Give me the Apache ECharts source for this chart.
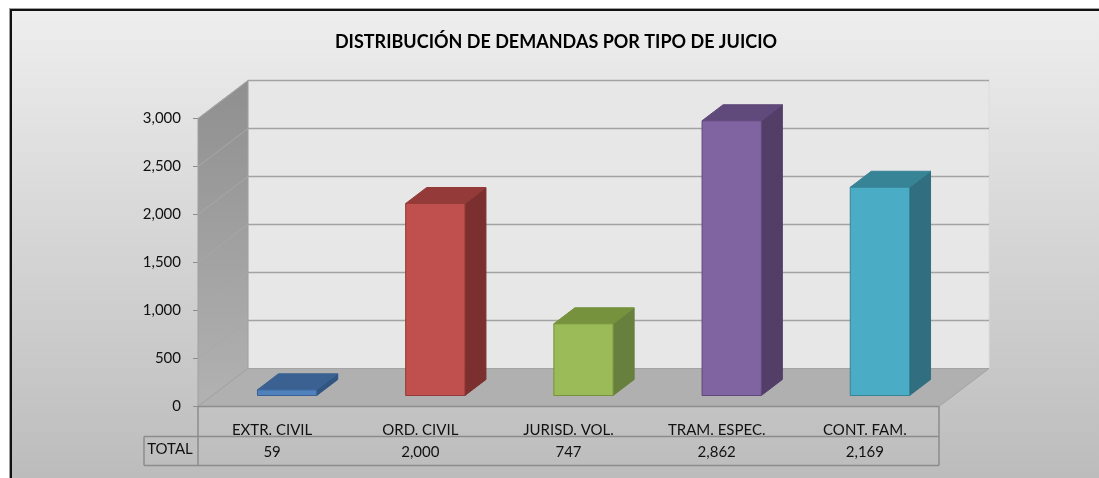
<!DOCTYPE html>
<html>
<head>
<meta charset="utf-8">
<style>
	html, body { margin: 0; padding: 0; background: #fff; }
	#chart { width: 1099px; height: 478px; }
</style>
<script src="https://cdn.jsdelivr.net/npm/echarts@6/dist/echarts.min.js"></script>
</head>
<body>
<div id="chart"></div>
<script>
var categories = ['EXTR. CIVIL', 'ORD. CIVIL', 'JURISD. VOL.', 'TRAM. ESPEC.', 'CONT. FAM.'];
var totals = [59, 2000, 747, 2862, 2169];
var yTicks = [0, 500, 1000, 1500, 2000, 2500, 3000];

var fontName = 'Lato';
var textColor = '#111';
var depthX = 50, depthY = -38; //profundidad de la caja 3D
var frontX = 15, frontY = -11; //cara frontal de la barra
var backX = 36, backY = -27; //cara trasera de la barra
var tableRow1 = 30, tableRow2 = 59, tableLeft = 54;

//colores de cada barra: frente, arriba, lado
var barColors = [
	['#4f81bd', '#3a6192', '#2f5580'],
	['#c0504d', '#943a38', '#7b2f2e'],
	['#9bbb59', '#76923c', '#67803d'],
	['#8064a2', '#604a7b', '#533e68'],
	['#4bacc6', '#378497', '#316f80']
];

function poly(points, fill, stroke, width) {
	return {
		type: 'polygon',
		shape: { points: points },
		style: { fill: fill, stroke: stroke || fill, lineWidth: width === undefined ? 1 : width }
	};
}

function seg(x1, y1, x2, y2, color, width) {
	return {
		type: 'line',
		shape: { x1: x1, y1: y1, x2: x2, y2: y2 },
		style: { stroke: color, lineWidth: width, fill: null }
	};
}

//piso, paredes y tabla de datos
function renderBox(params, api) {
	var c = params.coordSys;
	var l = c.x, r = c.x + c.width, t = c.y, b = c.y + c.height;
	var dx = depthX, dy = depthY;
	return {
		type: 'group',
		children: [
			poly([[l + dx, t + dy], [r + dx, t + dy], [r + dx, b + dy], [l + dx, b + dy]], '#e7e7e7', '#dcdcdc', 1),
			poly([[l, t], [l + dx, t + dy], [l + dx, b + dy], [l, b]], {
				type: 'linear', x: 0, y: 0, x2: 0, y2: 1,
				colorStops: [{ offset: 0, color: '#8f8f8f' }, { offset: 1, color: '#b2b2b2' }]
			}, '#a0a0a0', 1),
			poly([[l, b], [l + dx, b + dy], [r + dx, b + dy], [r, b]], '#b0b0b0', '#a3a3a3', 1),
			seg(l, b, r, b, '#8c8c8c', 1.5),
			seg(l, b, l, b + tableRow2, '#8c8c8c', 1.5),
			seg(r, b, r, b + tableRow2, '#8c8c8c', 1.5),
			seg(l - tableLeft, b + tableRow1, r, b + tableRow1, '#8c8c8c', 1.5),
			seg(l - tableLeft, b + tableRow2, r, b + tableRow2, '#8c8c8c', 1.5),
			seg(l - tableLeft, b + tableRow1, l - tableLeft, b + tableRow2, '#8c8c8c', 1.5),
			{
				type: 'text',
				style: {
					x: l - tableLeft / 2 - 1, y: b + 43, text: 'TOTAL', fill: textColor,
					font: '15px ' + fontName, textAlign: 'center', textVerticalAlign: 'middle'
				}
			}
		]
	};
}

//lineas de la cuadricula sobre las paredes
function renderGrid(params, api) {
	var c = params.coordSys;
	var y = api.coord([0, api.value(1)])[1];
	var l = c.x, r = c.x + c.width;
	if (api.value(1) === 0) return null;
	return {
		type: 'group',
		children: [
			seg(l, y, l + depthX, y + depthY, '#a8a8a8', 1),
			seg(l + depthX, y + depthY, r + depthX, y + depthY, '#a3a3a3', 1.5)
		]
	};
}

function renderBar(params, api) {
	var idx = api.value(0);
	var top = api.coord([idx, api.value(1)]);
	var base = api.coord([idx, 0]);
	var half = api.size([1, 0])[0] * 0.2;
	var col = barColors[idx];
	var x1 = top[0] + frontX - half, x2 = top[0] + frontX + half;
	var yt = top[1] + frontY, yb = base[1] + frontY;
	var bw = backX - frontX, bh = backY - frontY;
	return {
		type: 'group',
		children: [
			poly([[x2, yt], [x2 + bw, yt + bh], [x2 + bw, yb + bh], [x2, yb]], col[2]),
			poly([[x1, yt], [x1 + bw, yt + bh], [x2 + bw, yt + bh], [x2, yt]], col[1]),
			poly([[x1, yt], [x2, yt], [x2, yb], [x1, yb]], col[0], col[1], 1)
		]
	};
}

var chart = echarts.init(document.getElementById('chart'));
chart.setOption({
	animation: false,
	title: {
		text: 'DISTRIBUCIÓN DE DEMANDAS POR TIPO DE JUICIO',
		left: 551,
		top: 28,
		textAlign: 'center',
		textStyle: { fontFamily: fontName, fontSize: 18, fontWeight: 'bold', color: '#000' }
	},
	graphic: [
		{ type: 'rect', z: -3, shape: { x: 9, y: 8, width: 1090, height: 470 }, style: { fill: '#a0a0a0' } },
		{ type: 'rect', z: -2, shape: { x: 10, y: 9, width: 1089, height: 469 }, style: { fill: '#111' } },
		{
			type: 'rect', z: -1, shape: { x: 12, y: 11, width: 1087, height: 467 },
			style: {
				fill: {
					type: 'linear', x: 0, y: 0, x2: 0, y2: 1,
					colorStops: [{ offset: 0, color: '#eeeeee' }, { offset: 1, color: '#bcbcbc' }]
				}
			}
		}
	],
	grid: { left: 198, top: 118.5, width: 741, height: 288 },
	xAxis: [{
		type: 'category',
		data: categories,
		axisLine: { show: false },
		axisTick: { show: false },
		axisLabel: { fontFamily: fontName, fontSize: 15, color: textColor, margin: 16, interval: 0 }
	}, {
		type: 'category',
		position: 'bottom',
		offset: 38,
		data: totals.map(function(v) { return v.toLocaleString('en-US'); }),
		axisLine: { show: false },
		axisTick: { show: false },
		axisLabel: { fontFamily: fontName, fontSize: 15, color: textColor, margin: 0, interval: 0 }
	}],
	yAxis: {
		type: 'value',
		min: 0,
		max: 3000,
		interval: 500,
		axisLine: { show: false },
		axisTick: { show: true, length: 5, lineStyle: { color: '#8c8c8c' } },
		splitLine: { show: false },
		axisLabel: {
			fontFamily: fontName, fontSize: 15, color: textColor, margin: 17,
			padding: [3, 0, 0, 0],
			formatter: function(v) { return v.toLocaleString('en-US'); }
		}
	},
	series: [
		{ type: 'custom', name: 'caja', z: 1, silent: true, clip: false, renderItem: renderBox, data: [[0, 0]] },
		{ type: 'custom', name: 'cuadricula', z: 2, silent: true, clip: false, renderItem: renderGrid,
			data: yTicks.map(function(v) { return [0, v]; }) },
		{ type: 'custom', name: 'TOTAL', z: 3, clip: false, renderItem: renderBar,
			data: totals.map(function(v, i) { return [i, v]; }) }
	]
});
</script>
</body>
</html>
